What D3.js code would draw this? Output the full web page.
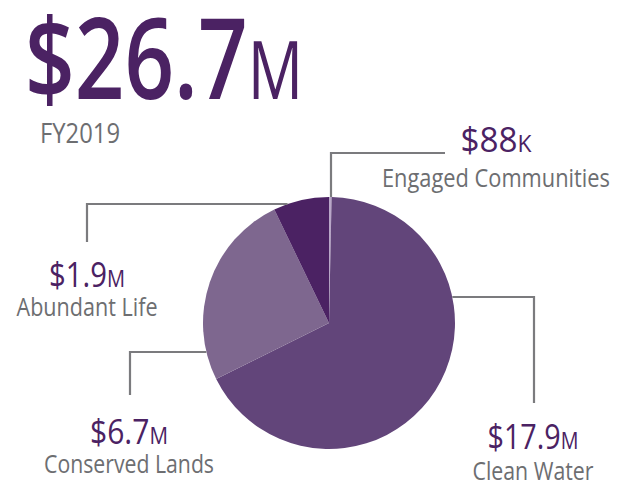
<!DOCTYPE html>
<html>
<head>
<meta charset="utf-8">
<script src="https://cdn.jsdelivr.net/npm/d3@7"></script>
<style>
  body { margin: 0; background: #fff; }
  svg { display: block; font-family: "Open Sans", "Noto Sans", sans-serif; }
</style>
</head>
<body>
<svg id="chart" width="622" height="487"></svg>
<script>
// Data (amounts in $M), in clockwise order from 12 o'clock
const categories = ["Engaged Communities", "Clean Water", "Conserved Lands", "Abundant Life"];
const amounts = [0.088, 17.9, 6.7, 1.9];
const valueLabels = ["$88", "$17.9", "$6.7", "$1.9"];
const unitLabels = ["K", "M", "M", "M"];
const totalValue = "$26.7";
const totalUnit = "M";
const fiscalYear = "FY2019";

const purple = "#4b2263",
      grey = "#6d6e71",
      leaderColor = "#7b7b7e";

const color = d3.scaleOrdinal()
                .domain(categories)
                .range(["#b9a7c8", "#62457a", "#7e678f", "#4b2263"]);

const cx = 329, cy = 323, radius = 126;

const svg = d3.select("#chart");

// Headline total
let total = svg.append("text")
               .attr("x", 25)
               .attr("y", 99)
               .attr("textLength", 278)
               .attr("lengthAdjust", "spacingAndGlyphs")
               .style("font-weight", 600)
               .style("fill", purple);
total.append("tspan").style("font-size", "113px").text(totalValue);
total.append("tspan").style("font-size", "80px").style("font-weight", 500).text(totalUnit);

svg.append("text")
   .attr("x", 40)
   .attr("y", 143)
   .attr("textLength", 80)
   .attr("lengthAdjust", "spacingAndGlyphs")
   .style("font-size", "28px")
   .style("fill", grey)
   .text(fiscalYear);

// Pie
let pie = d3.pie().sort(null).value((d) => d);
let arc = d3.arc().innerRadius(0).outerRadius(radius);

let g = svg.append("g").attr("transform", "translate(" + cx + "," + cy + ")");

g.selectAll("path")
 .data(pie(amounts))
 .enter().append("path")
 .attr("d", arc)
 .style("fill", (d, i) => color(categories[i]));

// Label layout: elbow of leader line, label centre and baselines
const layout = [
  {side: "top",   ex: 331, ey: 153, lx: 445, tx: 496, vy: 152, ny: 187, vw: 71, nw: 228},
  {side: "right", ex: 534, ey: 297, ly: 403, tx: 533, vy: 449, ny: 480, vw: 91, nw: 121},
  {side: "left",  ex: 130, ey: 352, ly: 395, tx: 129, vy: 444, ny: 473, vw: 78, nw: 170},
  {side: "left",  ex: 87,  ey: 204, ly: 242, tx: 87,  vy: 287, ny: 316, vw: 76, nw: 141}
];

function edgeX(y, dir) {
  return cx + dir * Math.sqrt(radius * radius - (y - cy) * (y - cy));
}

layout.forEach((p, i) => {
  let pts;
  if (p.side === "top") {
    let y0 = cy - Math.sqrt(radius * radius - (p.ex - cx) * (p.ex - cx));
    pts = [[p.ex, y0], [p.ex, p.ey], [p.lx, p.ey]];
  } else {
    let dir = p.side === "right" ? 1 : -1;
    pts = [[edgeX(p.ey, dir), p.ey], [p.ex, p.ey], [p.ex, p.ly]];
  }
  svg.append("path")
     .attr("d", d3.line()(pts))
     .style("fill", "none")
     .style("stroke", leaderColor)
     .style("stroke-width", 2.2);

  let val = svg.append("text")
               .attr("x", p.tx)
               .attr("y", p.vy)
               .attr("text-anchor", "middle")
               .attr("textLength", p.vw)
               .attr("lengthAdjust", "spacingAndGlyphs")
               .style("fill", purple);
  val.append("tspan").style("font-size", "35px").text(valueLabels[i]);
  val.append("tspan").style("font-size", "24px").text(unitLabels[i]);

  svg.append("text")
     .attr("x", p.tx)
     .attr("y", p.ny)
     .attr("text-anchor", "middle")
     .attr("textLength", p.nw)
     .attr("lengthAdjust", "spacingAndGlyphs")
     .style("font-size", "25px")
     .style("fill", grey)
     .text(categories[i]);
});
</script>
</body>
</html>
